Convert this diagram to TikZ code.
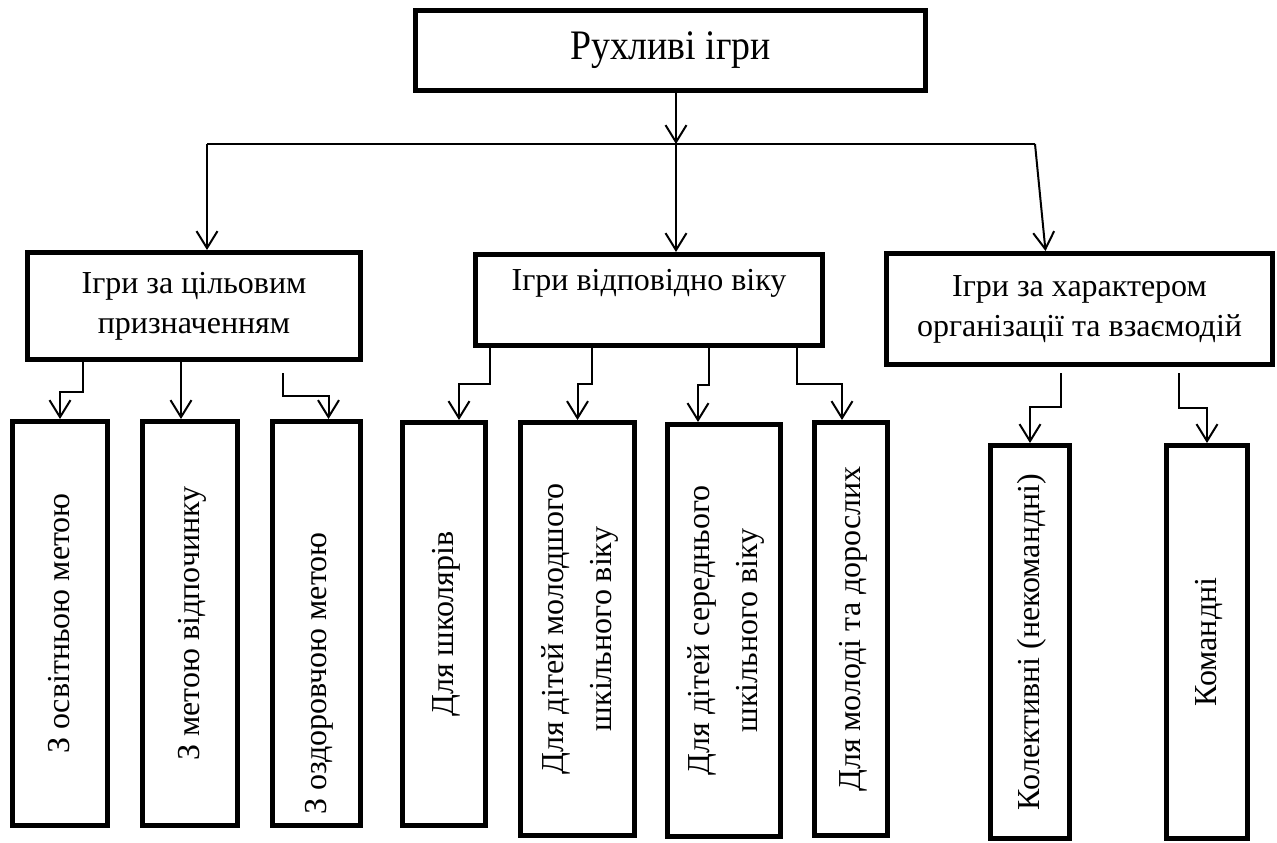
\documentclass[tikz,border=0pt]{standalone}
\usepackage{fontspec}
\setmainfont{Liberation Serif}
\usepackage{graphicx}
\usetikzlibrary{arrows.meta}

\newcommand{\vtxt}[1]{\rotatebox{90}{\begin{tabular}{@{}c@{}}#1\end{tabular}}}

\begin{document}
\begin{tikzpicture}[x=0.5pt, y=-0.5pt, line width=1pt,
  >={Straight Barb[length=8.5pt,width=10.5pt]}]
 \useasboundingbox (0,0) rectangle (1277,842);
 % top and middle level
 \begin{scope}[every node/.style={draw, line width=2.5pt, inner sep=0pt, align=center,
   font={\fontsize{16}{20}\selectfont}}]
   \node (root) [minimum width=255pt, minimum height=40pt] at (670.5,50.5)
     {\scalebox{0.9}[1]{\fontsize{21}{25}\selectfont Рухливі ігри}};
   \node (goal) [minimum width=166.5pt, minimum height=53.5pt] at (194,306)
     {Ігри за цільовим\\призначенням};
   \node (age)  [minimum width=173.5pt, minimum height=45.5pt] at (649,300)
     {Ігри відповідно віку\\\mbox{}};
   \node (org)  [minimum width=193pt, minimum height=55.5pt] at (1079.5,309)
     {Ігри за характером\\організації та взаємодій};
 \end{scope}
 % bottom level
 \begin{scope}[every node/.style={draw, line width=2.5pt, inner sep=0pt,
   font={\fontsize{16}{24}\selectfont}}]
   \node (g1) [minimum width=47.5pt, minimum height=202pt] at (60,623.5) {\vtxt{З освітньою метою}};
   \node (g2) [minimum width=47.5pt, minimum height=202pt] at (190,623.5) {\vtxt{З метою відпочинку}};
   \node (g3) [minimum width=44pt, minimum height=202pt] at (316.5,623.5) {\vtxt{З оздоровчою метою\mbox{}\hspace{50pt}\mbox{}}};
   \node (v1) [minimum width=41.5pt, minimum height=201.5pt] at (444,624) {\vtxt{Для школярів}};
   \node (v2) [minimum width=57pt, minimum height=206.5pt] at (577.5,629) {\vtxt{Для дітей молодшого\\шкільного віку}};
   \node (v3) [minimum width=56.5pt, minimum height=206pt] at (724,630.5) {\vtxt{Для дітей середнього\\шкільного віку}};
   \node (v4) [minimum width=36.5pt, minimum height=206.5pt] at (851,629) {\vtxt{Для молоді та дорослих}};
   \node (k1) [minimum width=39.5pt, minimum height=196.5pt] at (1030,642) {\vtxt{Колективні (некомандні)}};
   \node (k2) [minimum width=40.5pt, minimum height=196.5pt] at (1207,642) {\vtxt{Командні}};
 \end{scope}
 % branching under the root
 \coordinate (hub) at (676,144);
 \coordinate (hl) at (207,144);
 \coordinate (hr) at (1035,144);
 \draw [->] (root.south -| hub) -- (hub);
 \draw (hl) -- (hr);
 \draw [->] (hl) -- (hl |- goal.north);
 \draw [->] (hub) -- (hub |- age.north);
 \draw [->] (hr) -- ([xshift=-17pt]org.north);
 % connectors to the bottom level
 \coordinate (a1) at (83,360);
 \coordinate (a2) at (181,360);
 \coordinate (a3) at (283,373);
 \coordinate (c1) at (490,346);
 \coordinate (c2) at (592,346);
 \coordinate (c3) at (709,346);
 \coordinate (c4) at (797,346);
 \coordinate (d1) at (1061,373);
 \coordinate (d2) at (1179,373);
 \draw [->] (a1) -- ++(0,32) -| (g1.north);
 \draw [->] (a2) -- (a2 |- g2.north);
 \draw [->] (a3) -- ++(0,23) -| ([xshift=6pt]g3.north);
 \draw [->] (c1) -- ++(0,38) -| ([xshift=7.5pt]v1.north);
 \draw [->] (c2) -- ++(0,38) -| (v2.north);
 \draw [->] (c3) -- ++(0,39) -| ([xshift=-13pt]v3.north);
 \draw [->] (c4) -- ++(0,38) -| ([xshift=-4.5pt]v4.north);
 \draw [->] (d1) -- ++(0,34) -| (k1.north);
 \draw [->] (d2) -- ++(0,35) -| (k2.north);
\end{tikzpicture}
\end{document}
